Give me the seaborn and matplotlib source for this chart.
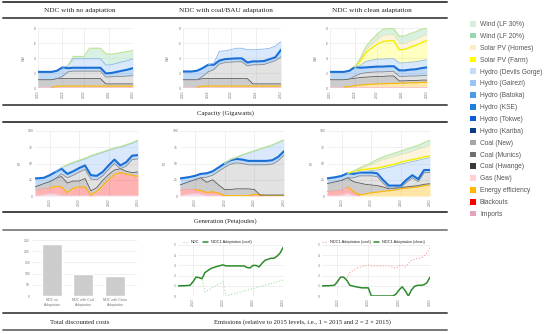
import numpy as np
import matplotlib
matplotlib.use("Agg")
import matplotlib.pyplot as plt
import seaborn as sns
from matplotlib.lines import Line2D
from matplotlib.patches import Patch

# ---- data -------------------------------------------------------------
years = [2015, 2018, 2020, 2022, 2024, 2026, 2028, 2030, 2032, 2034, 2036, 2038, 2040, 2042, 2044, 2046, 2048, 2050]

# capacity (GW)
cap_imports = [0.1, 0.1, 0.1, 0.1, 0.1, 0.1, 0.1, 0.1, 0.1, 0.1, 0.1, 0.1, 0.1, 0.1, 0.1, 0.1, 0.1, 0.1]
cap_ee = [0, 0, 0, 0.15, 0.15, 0.15, 0.15, 0.15, 0.15, 0.15, 0.15, 0.15, 0.15, 0.15, 0.15, 0.15, 0.15, 0.15]
cap_coal_old = [1.0, 1.0, 1.0, 1.0, 1.0, 1.0, 1.0, 1.0, 1.0, 1.0, 1.0, 1.0, 0.3, 0.3, 0.3, 0.3, 0.3, 0.3]

cap1_coal_new = [0, 0, 0, 0, 0.3, 0.9, 1.0, 1.0, 1.0, 1.0, 1.0, 1.0, 0.9, 0.95, 1.0, 1.0, 1.05, 1.1]
cap1_hydro = [1.05, 1.05, 1.05, 1.05, 1.2, 0.5, 0.45, 0.45, 0.45, 0.45, 0.45, 0.45, 0.5, 0.5, 0.6, 0.75, 0.85, 1.0]
cap1_hydro_new = [0, 0, 0, 0, 0, 0.3, 1.2, 1.2, 1.2, 1.2, 1.2, 1.2, 1.1, 1.1, 1.15, 1.2, 1.2, 1.25]
cap1_wind = [0, 0, 0, 0, 0, 0, 0.3, 0.3, 0.3, 1.4, 1.4, 1.4, 1.5, 1.4, 1.3, 1.25, 1.2, 1.1]

cap2_coal_new = [0, 0, 0, 0.3, 0.9, 1.2, 1.95, 2.15, 2.2, 2.25, 2.25, 1.7, 2.55, 2.55, 2.6, 2.85, 3.1, 3.6]
cap2_hydro = [1.1, 1.1, 1.2, 1.1, 0.95, 0.65, 0.45, 0.45, 0.45, 0.45, 0.45, 0.45, 0.45, 0.45, 0.45, 0.45, 0.45, 0.95]
cap2_hydro_new = [0, 0, 0, 0, 0, 0.2, 1.25, 1.1, 1.2, 1.35, 1.35, 1.7, 1.55, 1.6, 1.6, 1.45, 1.5, 1.1]

cap3_ee = [0, 0, 0, 0.1, 0.2, 0.3, 0.35, 0.4, 0.45, 0.45, 0.5, 0.5, 0.55, 0.55, 0.6, 0.6, 0.65, 0.65]
cap3_coal_new = [0, 0, 0, 0, 0.3, 0.5, 0.6, 0.6, 0.6, 0.6, 0.6, 0.6, 0.6, 0.6, 0.6, 0.6, 0.6, 0.6]
cap3_hydro = [1.05, 1.05, 1.05, 1.1, 1.2, 0.8, 0.7, 0.7, 0.7, 0.7, 0.7, 0.7, 0.8, 0.8, 0.85, 0.9, 1.0, 1.1]
cap3_hydro_new = [0, 0, 0, 0, 0, 0.3, 0.8, 0.9, 1.0, 1.0, 1.0, 1.0, 1.0, 1.0, 1.0, 1.0, 1.0, 1.0]
cap3_solar_farm = [0, 0, 0, 0, 0, 0.6, 1.2, 1.6, 2.0, 2.35, 2.4, 2.4, 1.75, 1.8, 2.0, 2.2, 2.4, 2.6]
cap3_solar_homes = [0, 0, 0, 0, 0, 0.2, 0.4, 0.5, 0.6, 0.8, 0.8, 0.8, 0.8, 0.8, 0.8, 0.8, 0.8, 0.8]
cap3_wind = [0, 0, 0, 0, 0, 0.2, 0.4, 0.6, 0.7, 0.8, 0.8, 0.8, 1.0, 1.0, 1.0, 1.0, 1.0, 0.8]

# generation (PJ)
gen1_imports = [1, 2, 4, 3, 1, 1, 1, 1, 1, 0, 1, 1, 1, 1, 1, 1, 1, 1]
gen1_blackouts = [8, 9, 8, 11, 12, 3, 10, 12, 12, 1, 5, 14, 23, 31, 34, 32, 30, 28]
gen1_ee = [0, 0, 0, 1, 1, 1, 1, 1, 1, 1, 1, 1, 1, 1, 1, 1, 1, 1]
gen1_coal_old = [5, 8, 10, 12, 16, 15, 11, 9, 13, 6, 6, 8, 8, 7, 6, 4, 4, 7]
gen1_coal_new = [0, 0, 0, 0, 4, 8, 9, 14, 14, 18, 12, 7, 8, 10, 0, 8, 20, 20]
gen1_hydro = [13, 9, 10, 10, 8, 6, 6, 6, 6, 6, 6, 6, 6, 6, 5, 6, 6, 6]
gen1_hydro_new = [0, 0, 0, 0, 2, 13, 13, 11, 10, 29, 33, 30, 23, 17, 28, 26, 19, 22]
gen1_wind = [0, 0, 0, 0, 0, 1, 1, 1, 1, 1, 1, 1, 1, 1, 1, 1, 1, 1]

gen2_imports = [1, 3, 4, 3, 1, 1, 1, 0, 0, 0, 0, 0, 0, 0, 0, 0, 0, 0]
gen2_blackouts = [8, 7, 6, 5, 4, 5, 3, 0, 0, 0, 0, 0, 2, 1, 0, 0, 0, 0]
gen2_ee = [0, 0, 0, 0.5, 0.5, 0.5, 0.5, 0.5, 0.5, 0.5, 0.5, 0.5, 0.5, 0.5, 0.5, 0.5, 0.5, 0.5]
gen2_coal_old = [8, 12, 15, 19.5, 15.5, 18.5, 12.5, 9.5, 9.5, 10.5, 10.5, 10.5, 7.5, 0, 1, 1, 1, 1]
gen2_coal_new = [0, 0, 0, 0, 8, 7, 21, 34, 39, 40, 39, 37, 38, 46.5, 46.5, 47.5, 52.5, 61.5]
gen2_hydro = [10, 7, 6, 6, 6, 6, 6, 6, 6, 6, 6, 6, 6, 6, 6, 6, 6, 6]
gen2_hydro_new = [0, 0, 0, 0, 0, 0, 0, 0, 1, 2, 7, 12, 15, 18, 21, 23, 22, 17]
gen2_wind = [0, 0, 0, 0, 0, 0, 0, 0, 0.5, 0.5, 0.5, 0.5, 0.5, 0.5, 0.5, 0.5, 0.5, 0.5]

gen3_imports = [1, 1, 2, 4, 1, 0, 0, 0, 0, 0, 0, 0, 0, 0, 0, 0, 0, 0]
gen3_blackouts = [6, 7, 7, 10, 5, 0, 0, 0, 0, 0, 0, 0, 0, 0, 0, 0, 0, 0]
gen3_ee = [0, 0, 0, 0, 1, 2, 3, 5, 6, 7, 8, 9, 11, 12, 13, 14, 16, 17]
gen3_coal_old = [12, 14, 15, 14, 15, 18, 15, 12, 10, 7, 3, 3, 2, 2, 2, 2, 2, 2]
gen3_coal_new = [0, 0, 0, 0, 6, 11, 13, 14, 14, 6, 1, 0, 0, 7, 13, 6, 18, 17]
gen3_hydro = [8, 7, 7, 7, 6, 5, 5, 5, 5, 5, 4, 4, 3, 4, 4, 4, 4, 4]
gen3_hydro_new = [0, 0, 0, 0, 2, 1, 2, 3, 5, 17, 28, 30, 33, 26, 21, 29, 17, 19]
gen3_solar_farm = [0, 0, 0, 0, 2, 3, 3, 3, 3, 3, 3, 3, 3, 3, 3, 3, 3, 3]
gen3_solar_homes = [0, 0, 0, 0, 0, 2, 4, 6, 9, 11, 11, 12, 12, 12, 13, 14, 15, 17]
gen3_wind = [0, 0, 0, 0, 0, 1, 2, 3, 4, 4, 5, 5, 5, 6, 6, 6, 7, 7]

# total discounted costs
cost_labels = ["NDC no\nAdaptation", "NDC with Coal\nAdaptation", "NDC with Clean\nAdaptation"]
cost_values = [232, 100, 91]

# emissions relative to 2015
em_years = [2015, 2017, 2019, 2020, 2021, 2022, 2023, 2024, 2026, 2028, 2030, 2031, 2034, 2037,
            2038, 2039, 2040, 2041, 2042, 2043, 2044, 2045, 2046, 2047, 2048, 2049, 2050]
em_ndc = [1.0, 1.0, 1.05, 1.4, 1.85, 1.8, 1.7, 0.4, 0.73, 1.07, 1.4, 0.0, 0.25, 0.49,
          0.57, 0.65, 0.73, 0.82, 0.9, 0.98, 1.06, 1.14, 1.22, 1.3, 1.39, 1.47, 1.55]
em_coal = [1.0, 1.0, 1.05, 1.4, 1.85, 1.8, 1.7, 2.3, 2.7, 2.9, 3.05, 2.95, 2.95, 2.95,
           2.8, 2.75, 3.0, 3.0, 2.85, 3.2, 3.5, 3.6, 3.7, 3.7, 3.9, 4.2, 4.75]
em_clean = [1.0, 1.0, 1.05, 1.4, 1.85, 1.85, 1.55, 1.05, 0.9, 0.8, 0.8, 0.0, 0.0, 0.0,
            0.0, 0.2, 0.6, 0.9, 0.5, 0.0, 0.6, 0.95, 1.05, 1.05, 1.1, 1.3, 1.85]

legend_names = ["Wind (LF 30%)", "Wind (LF 20%)", "Solar PV (Homes)", "Solar PV (Farm)",
                "Hydro (Devils Gorge)", "Hydro (Gairezi)", "Hydro (Batoka)", "Hydro (KSE)",
                "Hydro (Tokwe)", "Hydro (Kariba)", "Coal (New)", "Coal (Munics)", "Coal (Hwange)",
                "Gas (New)", "Energy efficiency", "Blackouts", "Imports"]
legend_colors = ["#d3eedb", "#93d9ad", "#fdedc4", "#ffff00", "#c6dbf7", "#9cc3f5", "#4d9be8",
                 "#1f7fe0", "#0b5fd6", "#0a3a8a", "#a6a6a6", "#6f6f6f", "#3a3a3a", "#ffd0d4",
                 "#ffb800", "#ff0000", "#e6a3bf"]

# ---- styles -----------------------------------------------------------
FILL = {"imports": ("#e6a3bf", 0.35), "blackouts": ("#ff0000", 0.3), "ee": ("#ffb800", 0.35),
        "coal_old": ("#6f6f6f", 0.35), "coal_new": ("#a6a6a6", 0.32), "hydro": ("#3d8ae0", 0.32),
        "hydro_new": ("#9cc3f5", 0.38), "solar_farm": ("#ffff00", 0.25),
        "solar_homes": ("#fdedc4", 0.6), "wind": ("#93d9ad", 0.35)}
EDGE = {"imports": ("#f3c6d6", 0.6), "blackouts": ("#ff9a9a", 0.6), "ee": ("#ffb800", 0.8),
        "coal_old": ("#5a5a5a", 0.6), "coal_new": ("#8c8c8c", 0.6), "hydro": ("#1a6fd6", 1.5),
        "hydro_new": ("#8ab6ee", 0.6), "solar_farm": ("#f2ee00", 1.0),
        "solar_homes": ("#f4e2a8", 0.5), "wind": ("#bfe49a", 0.9)}

sns.set_theme(style="white")
plt.rcParams["font.family"] = ["Liberation Sans", "DejaVu Sans"]

W, H = 550, 334
fig = plt.figure(figsize=(5.5, 3.34), dpi=100)


def px_axes(x0, y0, x1, y1):
    return fig.add_axes([x0 / W, 1 - y1 / H, (x1 - x0) / W, (y1 - y0) / H])


def style(ax, ylim, yticks, ylabel=None, xticks=None):
    ax.set_ylim(*ylim)
    ax.set_yticks(yticks)
    if xticks is not None:
        ax.set_xlim(2015, 2050)
        ax.set_xticks(xticks)
        ax.set_xticklabels([str(t) for t in xticks], rotation=90)
    ax.tick_params(labelsize=2.4, colors="#777777", length=0, pad=1.5)
    ax.grid(True, color="#e4e4e4", lw=0.4)
    ax.set_axisbelow(True)
    for s in ax.spines.values():
        s.set_visible(False)
    if ylabel:
        ax.set_ylabel(ylabel, fontsize=2.4, color="#777777")
        ax.yaxis.set_label_coords(-0.13, 0.5)


def draw_stack(ax, layers):
    x = np.array(years)
    base = np.zeros(len(x))
    for vals, key in layers:
        v = np.array(vals, dtype=float)
        top = base + v
        c, a = FILL[key]
        ax.fill_between(x, base, top, color=c, alpha=a, lw=0)
        on = v > 0
        near = on.copy()
        near[1:] |= on[:-1]
        near[:-1] |= on[1:]
        ec, lw = EDGE[key]
        ax.plot(x, np.where(near, top, np.nan), color=ec, lw=lw, solid_joinstyle="round")
        base = top


cap_xticks = [2015, 2024, 2032, 2041, 2050]
gen_xticks = [2020, 2030, 2040, 2050]

# capacity row
cap_layers = [
    [(cap_imports, "imports"), (cap_ee, "ee"), (cap_coal_old, "coal_old"), (cap1_coal_new, "coal_new"),
     (cap1_hydro, "hydro"), (cap1_hydro_new, "hydro_new"), (cap1_wind, "wind")],
    [(cap_imports, "imports"), (cap_ee, "ee"), (cap_coal_old, "coal_old"), (cap2_coal_new, "coal_new"),
     (cap2_hydro, "hydro"), (cap2_hydro_new, "hydro_new")],
    [(cap_imports, "imports"), (cap3_ee, "ee"), (cap_coal_old, "coal_old"), (cap3_coal_new, "coal_new"),
     (cap3_hydro, "hydro"), (cap3_hydro_new, "hydro_new"), (cap3_solar_farm, "solar_farm"),
     (cap3_solar_homes, "solar_homes"), (cap3_wind, "wind")],
]
cap_boxes = [(38, 28, 133, 88), (183, 28, 281, 88), (330, 28, 427, 88)]
for box, layers in zip(cap_boxes, cap_layers):
    ax = px_axes(*box)
    draw_stack(ax, layers)
    style(ax, (0, 8), [0, 2, 4, 6, 8], "GW", cap_xticks)

# generation row
gen_layers = [
    [(gen1_imports, "imports"), (gen1_blackouts, "blackouts"), (gen1_ee, "ee"), (gen1_coal_old, "coal_old"),
     (gen1_coal_new, "coal_new"), (gen1_hydro, "hydro"), (gen1_hydro_new, "hydro_new"), (gen1_wind, "wind")],
    [(gen2_imports, "imports"), (gen2_blackouts, "blackouts"), (gen2_ee, "ee"), (gen2_coal_old, "coal_old"),
     (gen2_coal_new, "coal_new"), (gen2_hydro, "hydro"), (gen2_hydro_new, "hydro_new"), (gen2_wind, "wind")],
    [(gen3_imports, "imports"), (gen3_blackouts, "blackouts"), (gen3_ee, "ee"), (gen3_coal_old, "coal_old"),
     (gen3_coal_new, "coal_new"), (gen3_hydro, "hydro"), (gen3_hydro_new, "hydro_new"),
     (gen3_solar_farm, "solar_farm"), (gen3_solar_homes, "solar_homes"), (gen3_wind, "wind")],
]
gen_boxes = [(35, 131, 138, 196), (180, 131, 284, 196), (327, 131, 430, 196)]
for box, layers in zip(gen_boxes, gen_layers):
    ax = px_axes(*box)
    draw_stack(ax, layers)
    style(ax, (0, 100), [0, 25, 50, 75, 100], "PJ", gen_xticks)

# total discounted costs
ax = px_axes(32, 240, 137, 296)
sns.barplot(x=cost_labels, y=cost_values, color="#cccccc", saturation=1, width=0.63, ax=ax)
ax.set_xlim(-0.63, 2.7)
style(ax, (0, 250), [0, 50, 100, 150, 200, 250])
ax.grid(False)
ax.yaxis.grid(True, color="#e4e4e4", lw=0.4)
ax.axhline(0, color="#bbbbbb", lw=0.4)

# emissions
ax = px_axes(178, 245, 283, 296)
sns.lineplot(x=em_years, y=em_ndc, ax=ax, color="#a9dca9", lw=0.8, linestyle=":", label="NDC")
sns.lineplot(x=em_years, y=em_coal, ax=ax, color="#2e8b2e", lw=1.1, label="NDC1 Adaptation (coal)")
style(ax, (0, 5), [0, 1, 2, 3, 4, 5], None, gen_xticks)
ax.legend(loc="lower left", bbox_to_anchor=(0.05, 1.02), ncol=2, fontsize=2.8, frameon=False,
          handlelength=1.2, columnspacing=1.0, borderaxespad=0, borderpad=0)

ax = px_axes(322, 245, 430, 296)
sns.lineplot(x=em_years, y=em_coal, ax=ax, color="#ff9d9d", lw=0.8, linestyle=":", label="NDC1 Adaptation (coal)")
sns.lineplot(x=em_years, y=em_clean, ax=ax, color="#2e8b2e", lw=1.1, label="NDC1 Adaptation (clean)")
style(ax, (0, 5), [0, 1, 2, 3, 4, 5], None, gen_xticks)
ax.legend(loc="lower left", bbox_to_anchor=(0.0, 1.02), ncol=2, fontsize=2.8, frameon=False,
          handlelength=1.2, columnspacing=1.0, borderaxespad=0, borderpad=0)

# table rules and captions
for yy, col in [(2, "#444444"), (18, "#555555"), (105, "#555555"), (122, "#444444"),
                (212, "#444444"), (230, "#888888"), (313, "#555555"), (330, "#777777")]:
    fig.add_artist(Line2D([3 / W, 447 / W], [1 - yy / H, 1 - yy / H], transform=fig.transFigure,
                          color=col, lw=1.4))

serif = ["Liberation Serif", "DejaVu Serif"]
for xx, txt in [(80, "NDC with no adaptation"), (226, "NDC with coal/BAU adaptation"),
                (372, "NDC with clean adaptation")]:
    fig.text(xx / W, 1 - 10.5 / H, txt, ha="center", va="center", fontsize=5.2, family=serif, color="#222222")
for xx, yy, txt in [(225, 113, "Capacity (Gigawatts)"), (225, 221, "Generation (Petajoules)"),
                    (80, 322, "Total discounted costs"),
                    (302, 322, "Emissions (relative to 2015 levels, i.e., 1 = 2015 and 2 = 2 \u00d7 2015)")]:
    fig.text(xx / W, 1 - yy / H, txt, ha="center", va="center", fontsize=4.8, family=serif, color="#222222")

# main legend
handles = [Patch(facecolor=c, edgecolor="none") for c in legend_colors]
fig.legend(handles, legend_names, loc="upper left", bbox_to_anchor=(470 / W, 1 - 21 / H), frameon=False,
           fontsize=4.8, handlelength=0.9, handleheight=0.9, handletextpad=0.6, labelspacing=0.72,
           borderpad=0, borderaxespad=0, labelcolor="#555555")

fig.savefig("out.png", dpi=100)
